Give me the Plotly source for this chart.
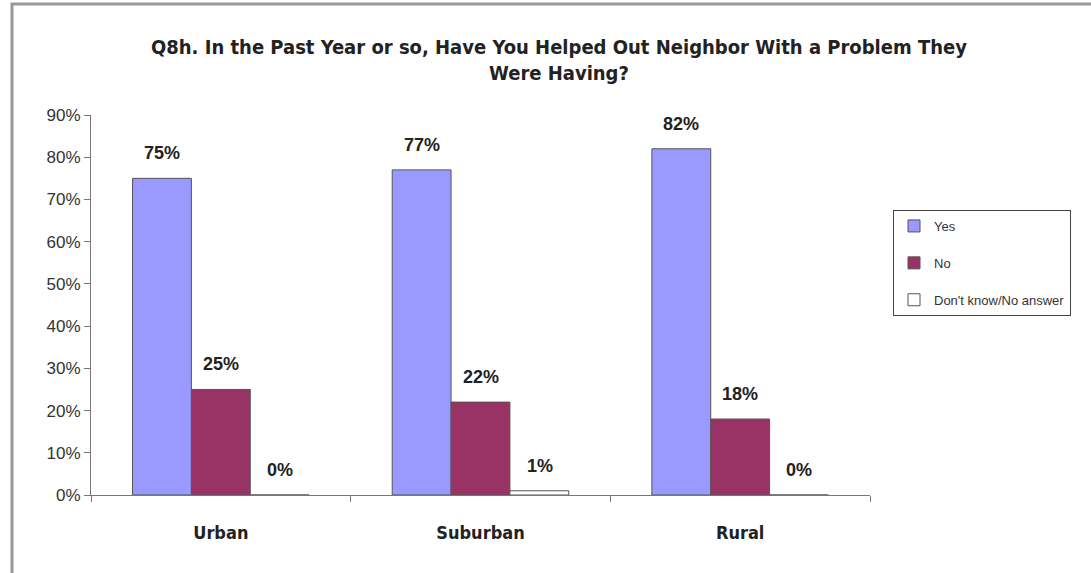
import plotly.graph_objects as go

categories = ["Urban", "Suburban", "Rural"]
series_names = ["Yes", "No", "Don't know/No answer"]
yes_vals = [75, 77, 82]
no_vals = [25, 22, 18]
dk_vals = [0, 1, 0]
y_ticks = [0, 10, 20, 30, 40, 50, 60, 70, 80, 90]
y_tick_labels = [f"{v}%" for v in y_ticks]

colors = ["#9999FF", "#993366", "#FFFFFF"]
all_vals = [yes_vals, no_vals, dk_vals]

L, R, T, B = 91, 221, 115, 78
PW, PH = 1091 - L - R, 573 - T - B

fig = go.Figure()
for name, vals, col in zip(series_names, all_vals, colors):
    fig.add_trace(go.Bar(
        x=categories, y=vals, name=name, legendgroup=name,
        marker=dict(color=col, line=dict(color="#555555", width=1)),
    ))

annotations = []
for i, vals in enumerate(all_vals):
    for c, v in zip(categories, vals):
        annotations.append(dict(
            x=c, y=v, xref="x", yref="y", text=f"<b>{v}%</b>", showarrow=False,
            xshift=(i - 1) * 59, yshift=25,
            font=dict(family="Liberation Sans, Arial", size=18, color="#222222"),
        ))

fig.update_layout(
    width=1091, height=573,
    margin=dict(l=L, r=R, t=T, b=B, autoexpand=False),
    paper_bgcolor="white", plot_bgcolor="white",
    barmode="group", bargap=0.32, bargroupgap=0,
    title=dict(
        text="<b>Q8h. In the Past Year or so, Have You Helped Out Neighbor With a Problem They<br>Were Having?</b>",
        x=559 / 1091, xanchor="center", y=1 - 54 / 573, yanchor="middle",
        font=dict(family="DejaVu Sans Condensed, DejaVu Sans", size=20, color="#222222"),
    ),
    showlegend=True,
    legend=dict(
        x=(893 - L) / PW, xanchor="left",
        y=(573 - B - 210) / PH, yanchor="top",
        bordercolor="#444444", borderwidth=1, bgcolor="white",
        font=dict(family="Liberation Sans, Arial", size=13, color="#333333"),
        tracegroupgap=17, itemwidth=30,
    ),
    annotations=annotations,
    yaxis=dict(
        range=[0, 90], tickvals=y_ticks, ticktext=y_tick_labels,
        showgrid=False, zeroline=False, showline=True, linecolor="#777777",
        ticks="outside", ticklen=6, tickcolor="#777777",
        tickfont=dict(family="Liberation Sans, Arial", size=17, color="#333333"),
    ),
    xaxis=dict(
        showgrid=False, showline=True, linecolor="#777777",
        ticks="outside", tickson="boundaries", ticklen=6, tickcolor="#777777",
        tickfont=dict(family="DejaVu Sans Condensed, DejaVu Sans", size=18, color="#222222"),
        ticktext=[f"<b>{c}</b>" for c in categories], tickvals=categories,
        ticklabelstandoff=21,
    ),
    shapes=[dict(type="rect", xref="paper", yref="paper",
                 x0=(12 - L) / PW, x1=(1095 - L) / PW,
                 y0=-(B + 10) / PH, y1=(573 - B - 4) / PH,
                 line=dict(color="#999999", width=3))],
)

fig.write_html("out.html")
